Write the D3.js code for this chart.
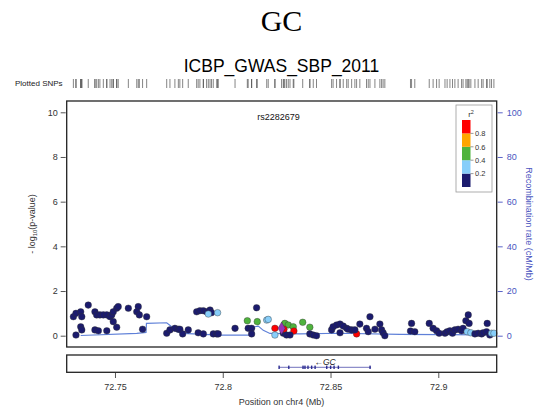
<!DOCTYPE html>
<html>
<head>
<meta charset="utf-8">
<script src="https://cdn.jsdelivr.net/npm/d3@7"></script>
<style>
  body { margin: 0; background: #fff; }
  text { font-family: "Liberation Sans", Arial, sans-serif; }
</style>
</head>
<body>
<div id="chart"></div>
<script>
// SNP positions (Mb), -log10(p) and r2 with the lead SNP
var snpPos = [72.7319, 72.7307, 72.7319, 72.7341, 72.7346, 72.7341, 72.7346, 72.7376, 72.7407, 72.7415,
    72.7430, 72.7446, 72.7462, 72.7477, 72.7485, 72.7492, 72.7508, 72.7515, 72.7492, 72.7407,
    72.7423, 72.7462, 72.7508, 72.7562, 72.7608, 72.7601, 72.7613, 72.7647, 72.7628, 72.7740,
    72.7755, 72.7778, 72.7794, 72.7801, 72.7814, 72.7840, 72.7886, 72.7910, 72.7956, 72.7972,
    72.7979, 72.8057, 72.8118, 72.8134, 72.8134, 72.7879, 72.7894, 72.7910, 72.7925, 72.7941,
    72.7948, 72.7933, 72.7976, 72.8157, 72.8114, 72.8160, 72.8204, 72.8211, 72.8242, 72.8242,
    72.8288, 72.8304, 72.8281, 72.8327, 72.8284, 72.8330, 72.8371, 72.8404, 72.8296, 72.8312,
    72.8404, 72.8420, 72.8435, 72.8505, 72.8512, 72.8528, 72.8544, 72.8559, 72.8575, 72.8582,
    72.8598, 72.8544, 72.8621, 72.8636, 72.8683, 72.8667, 72.8675, 72.8706, 72.8729, 72.8737,
    72.8744, 72.8752, 72.8613, 72.8876, 72.8871, 72.8891, 72.8958, 72.8976, 72.8992, 72.9004,
    72.9031, 72.9041, 72.9054, 72.9066, 72.9077, 72.9092, 72.9108, 72.9115, 72.9128, 72.9139,
    72.9143, 72.9134, 72.9151, 72.9170, 72.9185, 72.9201, 72.9208, 72.9227, 72.9224, 72.9239,
    72.9247, 72.9258];
var snpLogP = [0.03, 0.85, 1.00, 1.07, 0.85, 0.40, 0.26, 1.37, 1.07, 0.93,
    0.93, 0.93, 0.93, 0.85, 0.93, 1.07, 1.23, 1.30, 0.63, 0.26,
    0.22, 0.22, 0.38, 1.23, 1.30, 1.07, 0.93, 0.85, 0.29, 0.11,
    0.26, 0.33, 0.29, 0.29, 0.08, 0.26, 0.13, 0.08, 0.08, 0.08,
    0.08, 0.33, 0.33, 0.33, 0.08, 1.07, 1.12, 1.12, 1.07, 1.15,
    1.03, 0.97, 1.03, 1.25, 0.67, 0.63, 0.70, 0.73, 0.33, 0.03,
    0.55, 0.48, 0.11, 0.40, 0.29, 0.21, 0.60, 0.38, 0.03, 0.03,
    0.08, 0.03, 0.00, 0.26, 0.40, 0.48, 0.52, 0.43, 0.33, 0.29,
    0.26, 0.13, 0.08, 0.52, 0.85, 0.33, 0.18, 0.29, 0.52, 0.26,
    0.13, 0.00, 0.26, 0.55, 0.21, 0.18, 0.55, 0.33, 0.22, 0.11,
    0.11, 0.18, 0.22, 0.11, 0.26, 0.29, 0.22, 0.33, 0.67, 0.93,
    0.55, 0.18, 0.13, 0.08, 0.11, 0.08, 0.13, 0.55, 0.18, 0.03,
    0.11, 0.11];
var snpR2 = [0.1, 0.1, 0.1, 0.1, 0.1, 0.1, 0.1, 0.1, 0.1, 0.1,
    0.1, 0.1, 0.1, 0.1, 0.1, 0.1, 0.1, 0.1, 0.1, 0.1,
    0.1, 0.1, 0.1, 0.1, 0.1, 0.1, 0.1, 0.1, 0.1, 0.1,
    0.1, 0.1, 0.1, 0.1, 0.1, 0.1, 0.1, 0.1, 0.1, 0.1,
    0.1, 0.1, 0.1, 0.1, 0.1, 0.1, 0.1, 0.1, 0.1, 0.1,
    0.1, 0.3, 0.3, 0.1, 0.5, 0.5, 0.3, 0.3, 0.9, 0.3,
    0.5, 0.5, 0.1, 0.5, 0.9, 0.9, 0.5, 0.5, 0.1, 0.1,
    0.1, 0.1, 0.1, 0.1, 0.1, 0.1, 0.1, 0.1, 0.1, 0.1,
    0.1, 0.1, 0.9, 0.1, 0.1, 0.1, 0.1, 0.1, 0.1, 0.1,
    0.1, 0.1, 0.1, 0.1, 0.1, 0.1, 0.1, 0.1, 0.1, 0.1,
    0.1, 0.1, 0.1, 0.1, 0.1, 0.1, 0.1, 0.1, 0.1, 0.1,
    0.1, 0.3, 0.3, 0.1, 0.1, 0.1, 0.1, 0.1, 0.1, 0.1,
    0.3, 0.3];

var leadSnp = { name: "rs2282679", pos: 72.8273, logp: 0.33 };

// recombination rate (cM/Mb)
var recombPos = [72.7341, 72.7601, 72.7624, 72.7644, 72.7646, 72.7740, 72.7763, 72.7786, 72.7815, 72.7987,
    72.8126, 72.8149, 72.8165, 72.8188, 72.8219, 72.8358, 72.8544, 72.8822, 72.9007, 72.9272];
var recombRate = [0.1, 1.0, 1.3, 1.5, 5.5, 5.8, 4.0, 1.8, 1.0, 0.3,
    0.3, 4.0, 4.3, 2.4, 1.0, 0.8, 1.1, 0.6, 0.5, 0.4];

// gene GC (minus strand)
var geneName = "GC";
var geneStart = 72.8261, geneEnd = 72.8688;
var geneExons = [72.8261, 72.8306, 72.8372, 72.8381, 72.8395, 72.8412, 72.8428, 72.8482, 72.8500,
    72.8516, 72.8536, 72.8683];

var xTicks = [72.75, 72.8, 72.85, 72.9];
var yTicks = [0, 2, 4, 6, 8, 10];
var recombTicks = [0, 20, 40, 60, 80, 100];
var legendBreaks = [0.2, 0.4, 0.6, 0.8];
var legendColors = ["#1b1b6e", "#87cefa", "#4fb33d", "#ffa500", "#ff0000"];

var width = 536, height = 414;
var box = { left: 66.7, right: 496.7, top: 101, bottom: 347 };

var svg = d3.select("#chart").append("svg")
    .attr("width", width)
    .attr("height", height);

var x = d3.scaleLinear().domain([72.7276, 72.9271]).range([box.left, box.right]);
var y = d3.scaleLinear().domain([0, 10]).range([335.7, 112.3]);
var yr = d3.scaleLinear().domain([0, 100]).range([335.7, 112.3]);
var color = d3.scaleThreshold().domain(legendBreaks).range(legendColors);

// titles
svg.append("text")
    .attr("x", 281.5).attr("y", 31)
    .attr("text-anchor", "middle")
    .style("font-family", "'Liberation Serif', 'DejaVu Serif', serif")
    .style("font-size", "30px")
    .text("GC");

svg.append("text")
    .attr("x", 281.5).attr("y", 72)
    .attr("text-anchor", "middle")
    .style("font-size", "17.5px")
    .text("ICBP_GWAS_SBP_2011");

// plotted SNPs rug
svg.append("text")
    .attr("x", 15).attr("y", 86)
    .style("font-size", "8px")
    .style("fill", "#222")
    .text("Plotted SNPs");

svg.append("g").selectAll("line")
    .data(snpPos.concat([leadSnp.pos]))
    .enter().append("line")
    .attr("x1", function (d) { return x(d); })
    .attr("x2", function (d) { return x(d); })
    .attr("y1", 79).attr("y2", 88)
    .style("stroke", "#333")
    .style("stroke-width", 0.6);

// left axis
var yAxis = d3.axisLeft(y).tickValues(yTicks).tickSize(5).tickPadding(3);
var gy = svg.append("g")
    .attr("transform", "translate(" + (box.left - 1) + ",0)")
    .call(yAxis);
gy.select(".domain").remove();
gy.selectAll("line").style("stroke", "#555");
gy.selectAll("text").style("font-size", "9px").style("fill", "#333")
    .style("font-family", "'Liberation Sans', Arial, sans-serif");

var ylab = svg.append("text")
    .attr("transform", "translate(35," + ((box.top + box.bottom) / 2) + ") rotate(-90)")
    .attr("text-anchor", "middle")
    .style("font-size", "9px")
    .style("fill", "#333");
ylab.append("tspan").text("- log");
ylab.append("tspan").attr("dy", 2).style("font-size", "6px").text("10");
ylab.append("tspan").attr("dy", -2).text("(p-value)");

// right axis
var rAxis = d3.axisRight(yr).tickValues(recombTicks).tickSize(5).tickPadding(4);
var gr = svg.append("g")
    .attr("transform", "translate(" + (box.right + 1) + ",0)")
    .call(rAxis);
gr.select(".domain").remove();
gr.selectAll("line").style("stroke", "#5a64c8");
gr.selectAll("text").style("font-size", "9px").style("fill", "#4a55c0")
    .style("font-family", "'Liberation Sans', Arial, sans-serif");

svg.append("text")
    .attr("transform", "translate(526," + ((box.top + box.bottom) / 2) + ") rotate(90)")
    .attr("text-anchor", "middle")
    .style("font-size", "9px")
    .style("fill", "#4a55c0")
    .text("Recombination rate (cM/Mb)");

// recombination line
var line = d3.line()
    .x(function (d, i) { return x(recombPos[i]); })
    .y(function (d) { return yr(d); });
svg.append("path")
    .datum(recombRate)
    .attr("d", line)
    .style("fill", "none")
    .style("stroke", "#5f80d8")
    .style("stroke-width", 1.2);

// SNP points
svg.append("g").selectAll("circle")
    .data(snpPos)
    .enter().append("circle")
    .attr("cx", function (d) { return x(d); })
    .attr("cy", function (d, i) { return y(snpLogP[i]); })
    .attr("r", 3.3)
    .style("fill", function (d, i) { return color(snpR2[i]); })
    .style("stroke", "#333")
    .style("stroke-width", 0.4);

// lead SNP
svg.append("path")
    .attr("d", d3.symbol().type(d3.symbolDiamond).size(45)())
    .attr("transform", "translate(" + x(leadSnp.pos) + "," + y(leadSnp.logp) + ")")
    .style("fill", "#9632b8")
    .style("stroke", "#333")
    .style("stroke-width", 0.4);

svg.append("text")
    .attr("x", x(leadSnp.pos) - 3).attr("y", 120)
    .attr("text-anchor", "middle")
    .style("font-size", "9px")
    .style("fill", "#111")
    .text(leadSnp.name);

// plot box
svg.append("rect")
    .attr("x", box.left).attr("y", box.top)
    .attr("width", box.right - box.left).attr("height", box.bottom - box.top)
    .style("fill", "none")
    .style("stroke", "#222")
    .style("stroke-width", 1.3);

// legend
var leg = svg.append("g");
leg.append("rect")
    .attr("x", 456).attr("y", 105).attr("width", 36).attr("height", 87)
    .style("fill", "#fff").style("stroke", "#999").style("stroke-width", 0.8);
var legY = d3.scaleLinear().domain([0, 1]).range([187, 120]);
leg.selectAll("rect.c")
    .data(legendColors)
    .enter().append("rect")
    .attr("class", "c")
    .attr("x", 462).attr("width", 8.5)
    .attr("y", function (d, i) { return legY((i + 1) / 5); })
    .attr("height", legY(0) - legY(0.2))
    .style("fill", function (d) { return d; });
leg.selectAll("line")
    .data(legendBreaks)
    .enter().append("line")
    .attr("x1", 470.5).attr("x2", 473.5)
    .attr("y1", function (d) { return legY(d); })
    .attr("y2", function (d) { return legY(d); })
    .style("stroke", "#555").style("stroke-width", 0.6);
leg.selectAll("text.l")
    .data(legendBreaks)
    .enter().append("text")
    .attr("class", "l")
    .attr("x", 475)
    .attr("y", function (d) { return legY(d) + 2.8; })
    .style("font-size", "7.5px")
    .style("fill", "#333")
    .text(function (d) { return d; });
var r2 = leg.append("text").attr("x", 471).attr("y", 117)
    .attr("text-anchor", "middle")
    .style("font-size", "8px").style("fill", "#333");
r2.append("tspan").text("r");
r2.append("tspan").attr("dy", -3).style("font-size", "5.5px").text("2");

// gene panel
var gTop = 355, gBot = 372.3;
svg.append("rect")
    .attr("x", box.left).attr("y", gTop)
    .attr("width", box.right - box.left).attr("height", gBot - gTop)
    .style("fill", "none").style("stroke", "#222").style("stroke-width", 1.3);

svg.append("line")
    .attr("x1", x(geneStart)).attr("x2", x(geneEnd))
    .attr("y1", 367.3).attr("y2", 367.3)
    .style("stroke", "#3535a0").style("stroke-width", 0.7);
svg.append("g").selectAll("rect")
    .data(geneExons)
    .enter().append("rect")
    .attr("x", function (d) { return x(d) - 0.6; })
    .attr("y", 365.6).attr("width", 1.4).attr("height", 3.4)
    .style("fill", "#2a2a90");

var gl = svg.append("text")
    .attr("x", x((geneStart + geneEnd) / 2)).attr("y", 364.5)
    .attr("text-anchor", "middle")
    .style("font-size", "8.5px")
    .style("fill", "#222");
gl.append("tspan").text("\u2190");
gl.append("tspan").style("font-style", "italic").text(geneName);

// x axis
var xAxis = d3.axisBottom(x).tickValues(xTicks).tickSize(5).tickPadding(6)
    .tickFormat(function (d) { return d; });
var gx = svg.append("g")
    .attr("transform", "translate(0," + (gBot + 0.7) + ")")
    .call(xAxis);
gx.select(".domain").remove();
gx.selectAll("line").style("stroke", "#555");
gx.selectAll("text").style("font-size", "9px").style("fill", "#333")
    .style("font-family", "'Liberation Sans', Arial, sans-serif");

svg.append("text")
    .attr("x", 281.5).attr("y", 405)
    .attr("text-anchor", "middle")
    .style("font-size", "9px")
    .style("fill", "#333")
    .text("Position on chr4 (Mb)");
</script>
</body>
</html>
